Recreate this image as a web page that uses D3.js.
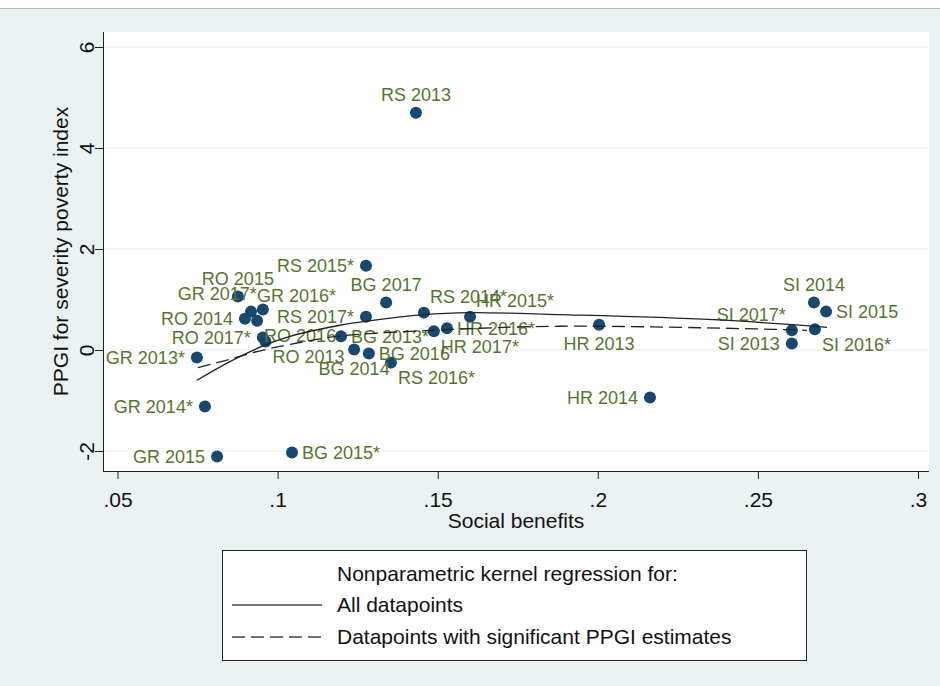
<!DOCTYPE html>
<html>

<head>
    <script src="https://cdnjs.cloudflare.com/ajax/libs/d3/7.8.5/d3.min.js"></script>
    <style>
        body {
            margin: 0;
            background: #fff;
        }

        text {
            font-family: 'Liberation Sans', Arial, sans-serif;
        }
    </style>
</head>

<body>
    <div id="root"></div>
    <script>
        // country-year labels, social benefits (x) and PPGI (y)
        const labels = ['RS 2013', 'RS 2015*', 'BG 2017', 'RO 2015', 'GR 2017*', 'GR 2016*', 'RO 2014', 'RO 2016',
            'RO 2017*', 'RO 2013', 'GR 2013*', 'RS 2017*', 'BG 2013*', 'BG 2014', 'BG 2016', 'RS 2016*',
            'RS 2014*', 'HR 2017*', 'HR 2016*', 'HR 2015*', 'HR 2013', 'HR 2014', 'SI 2014', 'SI 2015',
            'SI 2017*', 'SI 2013', 'SI 2016*', 'GR 2014*', 'GR 2015', 'BG 2015*']
        const benefits = [0.1432, 0.1276, 0.1339, 0.0876, 0.0954, 0.0917, 0.0898, 0.0936,
            0.0954, 0.0962, 0.0748, 0.1276, 0.1198, 0.1239, 0.1285, 0.1354,
            0.1457, 0.1488, 0.1529, 0.1601, 0.2004, 0.2163, 0.2675, 0.2713,
            0.2606, 0.2606, 0.2678, 0.0773, 0.0811, 0.1045]
        const ppgi = [4.70, 1.67, 0.94, 1.06, 0.80, 0.76, 0.62, 0.58,
            0.25, 0.17, -0.15, 0.66, 0.27, 0.01, -0.07, -0.25,
            0.74, 0.37, 0.43, 0.66, 0.50, -0.94, 0.94, 0.76,
            0.39, 0.13, 0.41, -1.12, -2.11, -2.03]
        // clock position of each marker label
        const labelClock = [12, 9, 12, 12, 11, 1, 9, 4,
            9, 4, 9, 9, 3, 6, 3, 4,
            1, 4, 3, 1, 6, 9, 12, 3,
            11, 9, 4, 9, 9, 3]

        // kernel regression curves
        const allX = [0.0748, 0.0851, 0.0951, 0.1039, 0.1195, 0.1267, 0.1454, 0.1601, 0.1882, 0.2360, 0.2716]
        const allY = [-0.60, -0.23, 0.07, 0.27, 0.49, 0.56, 0.70, 0.74, 0.70, 0.60, 0.45]
        const sigX = [0.0751, 0.0836, 0.0936, 0.1039, 0.1186, 0.1485, 0.1882, 0.2547, 0.2653]
        const sigY = [-0.35, -0.21, -0.03, 0.11, 0.27, 0.39, 0.47, 0.41, 0.39]

        const xTicks = [0.05, 0.1, 0.15, 0.2, 0.25, 0.3]
        const xTickLabels = ['.05', '.1', '.15', '.2', '.25', '.3']
        const yTicks = [-2, 0, 2, 4, 6]
        const yTickLabels = ['-2', '0', '2', '4', '6']

        const w = 940
        const h = 686
        const plot = { left: 103, right: 929, top: 32, bottom: 471 }
        const navy = '#1a476f'
        const green = '#55752f'

        const svg = d3.select('#root').append('svg')
            .attr('width', w)
            .attr('height', h)

        svg.append('rect').attr('width', w).attr('height', h).attr('fill', '#eaf2f3')
        svg.append('rect').attr('width', w).attr('height', 8).attr('fill', '#fff')
        svg.append('line').attr('x1', 0).attr('x2', w).attr('y1', 8.5).attr('y2', 8.5)
            .attr('stroke', '#b8b8b8')

        svg.append('rect')
            .attr('x', plot.left).attr('y', plot.top)
            .attr('width', plot.right - plot.left).attr('height', plot.bottom - plot.top)
            .attr('fill', '#fff')

        const x = d3.scaleLinear().domain([0.05, 0.3]).range([117.5, 918])
        const y = d3.scaleLinear().domain([-2, 6]).range([451, 47])

        // gridlines
        svg.append('g').selectAll('line')
            .data(yTicks)
            .enter()
            .append('line')
            .attr('x1', plot.left).attr('x2', plot.right)
            .attr('y1', d => y(d)).attr('y2', d => y(d))
            .attr('stroke', '#e6eff1')
            .attr('stroke-width', 1.2)

        // axes
        const yAxis = svg.append('g')
            .attr('transform', `translate(${plot.left},0)`)
            .call(d3.axisLeft(y).tickValues(yTicks).tickFormat((d, i) => yTickLabels[i]).tickSize(8).tickSizeOuter(0))
        yAxis.select('.domain').remove()
        yAxis.selectAll('line').attr('stroke', '#222')
        yAxis.selectAll('text')
            .attr('x', null).attr('dy', '0.35em')
            .attr('text-anchor', 'middle')
            .attr('transform', 'translate(-16,0) rotate(-90)')
            .attr('font-size', 21).attr('fill', '#111')

        const xAxis = svg.append('g')
            .attr('transform', `translate(0,${plot.bottom})`)
            .call(d3.axisBottom(x).tickValues(xTicks).tickFormat((d, i) => xTickLabels[i]).tickSize(8).tickSizeOuter(0))
        xAxis.select('.domain').remove()
        xAxis.selectAll('line').attr('stroke', '#222')
        xAxis.selectAll('text')
            .attr('y', 29).attr('dy', '0.35em')
            .attr('font-size', 21).attr('fill', '#111')

        svg.append('line')
            .attr('x1', plot.left + 0.5).attr('x2', plot.left + 0.5)
            .attr('y1', plot.top).attr('y2', plot.bottom)
            .attr('stroke', '#222')
        svg.append('line')
            .attr('x1', plot.left).attr('x2', plot.right)
            .attr('y1', plot.bottom + 0.5).attr('y2', plot.bottom + 0.5)
            .attr('stroke', '#222')

        svg.append('text')
            .attr('x', (plot.left + plot.right) / 2).attr('y', 521).attr('dy', '0.35em')
            .attr('text-anchor', 'middle')
            .attr('font-size', 21).attr('fill', '#111')
            .text('Social benefits')
        svg.append('text')
            .attr('transform', `translate(61,${(plot.top + plot.bottom) / 2}) rotate(-90)`)
            .attr('dy', '0.35em')
            .attr('text-anchor', 'middle')
            .attr('font-size', 21).attr('fill', '#111')
            .text('PPGI for severity poverty index')

        // points
        const points = labels.map((d, i) => ({ name: d, bx: benefits[i], py: ppgi[i], clock: labelClock[i] }))

        svg.append('g').selectAll('circle')
            .data(points)
            .enter()
            .append('circle')
            .attr('cx', d => x(d.bx))
            .attr('cy', d => y(d.py))
            .attr('r', 6)
            .attr('fill', navy)

        // offsets for label clock positions
        const clockOffset = {
            12: [0, -18, 'middle'],
            6: [0, 19, 'middle'],
            3: [10, 0, 'start'],
            9: [-12, 0, 'end'],
            1: [6, -16, 'start'],
            11: [-6, -16, 'end'],
            4: [7, 15, 'start']
        }

        svg.append('g').selectAll('text')
            .data(points)
            .enter()
            .append('text')
            .attr('x', d => x(d.bx) + clockOffset[d.clock][0])
            .attr('y', d => y(d.py) + clockOffset[d.clock][1])
            .attr('dy', '0.35em')
            .attr('text-anchor', d => clockOffset[d.clock][2])
            .attr('font-size', 18)
            .attr('fill', green)
            .text(d => d.name)

        // regression lines
        const line = d3.line()
            .x(d => x(d[0]))
            .y(d => y(d[1]))
            .curve(d3.curveCatmullRom)

        svg.append('path')
            .datum(allX.map((d, i) => [d, allY[i]]))
            .attr('d', line)
            .attr('fill', 'none')
            .attr('stroke', '#222')
            .attr('stroke-width', 1.3)

        svg.append('path')
            .datum(sigX.map((d, i) => [d, sigY[i]]))
            .attr('d', line)
            .attr('fill', 'none')
            .attr('stroke', '#222')
            .attr('stroke-width', 1.3)
            .attr('stroke-dasharray', '13,6')

        // legend
        const legend = svg.append('g')
        legend.append('rect')
            .attr('x', 222.5).attr('y', 550.5)
            .attr('width', 584).attr('height', 110)
            .attr('fill', '#fff')
            .attr('stroke', '#222')
        legend.append('text')
            .attr('x', 337).attr('y', 574).attr('dy', '0.35em')
            .attr('font-size', 21).attr('fill', '#111')
            .text('Nonparametric kernel regression for:')
        legend.append('line')
            .attr('x1', 232).attr('x2', 322).attr('y1', 605).attr('y2', 605)
            .attr('stroke', '#444').attr('stroke-width', 1.3)
        legend.append('text')
            .attr('x', 337).attr('y', 605).attr('dy', '0.35em')
            .attr('font-size', 21).attr('fill', '#111')
            .text('All datapoints')
        legend.append('line')
            .attr('x1', 232).attr('x2', 322).attr('y1', 637).attr('y2', 637)
            .attr('stroke', '#444').attr('stroke-width', 1.3)
            .attr('stroke-dasharray', '13,6')
        legend.append('text')
            .attr('x', 337).attr('y', 637).attr('dy', '0.35em')
            .attr('font-size', 21).attr('fill', '#111')
            .text('Datapoints with significant PPGI estimates')
    </script>
</body>

</html>
